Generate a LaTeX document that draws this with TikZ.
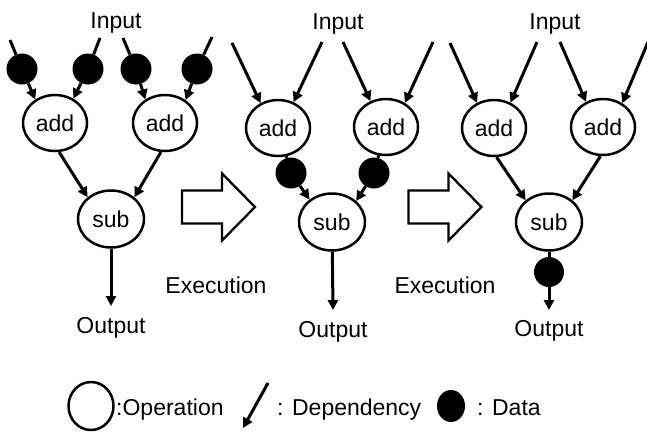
\documentclass[tikz,border=0pt]{standalone}
\usepackage{fontspec}
\setmainfont{Liberation Sans}
\usetikzlibrary{arrows.meta,shapes.geometric,positioning}

\tikzset{
  op/.style={draw, ellipse, line width=2.5pt, minimum width=64pt,
    minimum height=56pt, inner sep=0pt, font=\fontsize{23}{27}\selectfont},
  data/.style={circle, fill=black, minimum size=31pt, inner sep=0pt},
  wire/.style={line width=3pt},
  dep/.style={wire, -{Triangle[length=10pt,width=10pt]}},
  lbl/.style={font=\fontsize{23}{27}\selectfont, inner sep=0pt},
  stepper/.style={draw, line width=2.3pt, line join=miter},
}

% hollow block arrow around a named coordinate
\newcommand{\steparrow}[1]{%
  \draw[stepper, shift={(#1)}] (-36.5,-16.5) -- (3.5,-16.5) -- (3.5,-33.5)
    -- (36.5,0) -- (3.5,33.5) -- (3.5,16.5) -- (-36.5,16.5) -- cycle;}

\begin{document}
\begin{tikzpicture}[x=1pt, y=-1pt]
  \useasboundingbox (0,0) rectangle (647,432);

  % stage 1: data waiting on all four inputs
  \node[lbl, anchor=base] (in-1) at (116,28) {Input};
  \coordinate (t1) at (10,40);
  \coordinate (t2) at (100,38);
  \coordinate (t3) at (123,38);
  \coordinate (t4) at (212,37);
  \node[data] (d1) at (22,69) {};
  \node[data] (d2) at (88,69) {};
  \node[data] (d3) at (136,69) {};
  \node[data] (d4) at (197,69) {};
  \node[op] (a1) at (55,123) {add};
  \node[op] (a2) at (165,123) {add};
  \node[op, minimum width=66pt, minimum height=57pt] (s1) at (111,219) {sub};
  \draw[wire] (t1) -- (d1);
  \draw[wire] (t2) -- (d2);
  \draw[wire] (t3) -- (d3);
  \draw[wire] (t4) -- (d4);
  \draw[dep] (d1) -- (a1.130);
  \draw[dep] (d2) -- (a1.53);
  \draw[dep] (d3) -- (a2.130);
  \draw[dep] (d4) -- (a2.48);
  \draw[dep] (a1.-82) -- (s1.137);
  \draw[dep] (a2.-98) -- (s1.43);
  \coordinate (o1) at (111,306);
  \draw[dep] (s1) -- (o1);
  \node[lbl, anchor=base] (out-1) at (111,333) {Output};

  % first execution step
  \coordinate (ex-1) at (218.5,207);
  \steparrow{ex-1}
  \node[lbl, anchor=base] (ex-1-lbl) at (216,293) {Execution};

  % stage 2: adds done, results wait before sub
  \node[lbl, anchor=base] (in-2) at (338,29) {Input};
  \coordinate (t5) at (232,43);
  \coordinate (t6) at (322,42);
  \coordinate (t7) at (343,42);
  \coordinate (t8) at (433,42);
  \node[op] (a3) at (278,128) {add};
  \node[op] (a4) at (386,127) {add};
  \node[op, minimum width=66pt, minimum height=57pt] (s2) at (332,222) {sub};
  \node[data] (d5) at (291,173) {};
  \node[data] (d6) at (374,173) {};
  \draw[dep] (t5) -- (a3.125);
  \draw[dep] (t6) -- (a3.59);
  \draw[dep] (t7) -- (a4.121);
  \draw[dep] (t8) -- (a4.52);
  \draw[wire] (a3) -- (d5);
  \draw[wire] (a4) -- (d6);
  \draw[dep] (d5) -- (s2.135);
  \draw[dep] (d6) -- (s2.41);
  \coordinate (o2) at (333,310);
  \draw[dep] (s2) -- (o2);
  \node[lbl, anchor=base] (out-2) at (333,337) {Output};

  % second execution step
  \coordinate (ex-2) at (445,207);
  \steparrow{ex-2}
  \node[lbl, anchor=base] (ex-2-lbl) at (445,293) {Execution};

  % stage 3: sub done, result at the output
  \node[lbl, anchor=base] (in-3) at (555,29) {Input};
  \coordinate (t9) at (450,43);
  \coordinate (t10) at (537,42);
  \coordinate (t11) at (560,42);
  \coordinate (t12) at (648,42);
  \node[op] (a5) at (494,128) {add};
  \node[op] (a6) at (603,127) {add};
  \node[op, minimum width=66pt, minimum height=57pt] (s3) at (549,222) {sub};
  \draw[dep] (t9) -- (a5.124);
  \draw[dep] (t10) -- (a5.57);
  \draw[dep] (t11) -- (a6.124);
  \draw[dep] (t12) -- (a6.51);
  \draw[dep] (a5.-85) -- (s3.137);
  \draw[dep] (a6.-95) -- (s3.43);
  \node[data, minimum size=30pt] (d9) at (549,272) {};
  \draw[wire] (s3) -- (d9);
  \coordinate (o3) at (549,310);
  \draw[dep] (d9) -- (o3);
  \node[lbl, anchor=base] (out-3) at (549,336) {Output};

  % key
  \node[draw, ellipse, line width=2.5pt, minimum width=45pt, minimum height=48pt,
    inner sep=0pt] (key-op) at (91,406) {};
  \node[lbl, anchor=base west] (key-op-lbl) at (116,415) {:Operation};
  \coordinate (k1) at (268,383);
  \coordinate (k2) at (243,428);
  \draw[dep] (k1) -- (k2);
  \node[lbl, anchor=base west] (key-dep-lbl) at (277,415) {: Dependency};
  \node[ellipse, fill=black, minimum width=28pt, minimum height=32pt,
    inner sep=0pt] (key-data) at (451,406) {};
  \node[lbl, anchor=base west] (key-data-lbl) at (477,415) {: Data};
\end{tikzpicture}
\end{document}
